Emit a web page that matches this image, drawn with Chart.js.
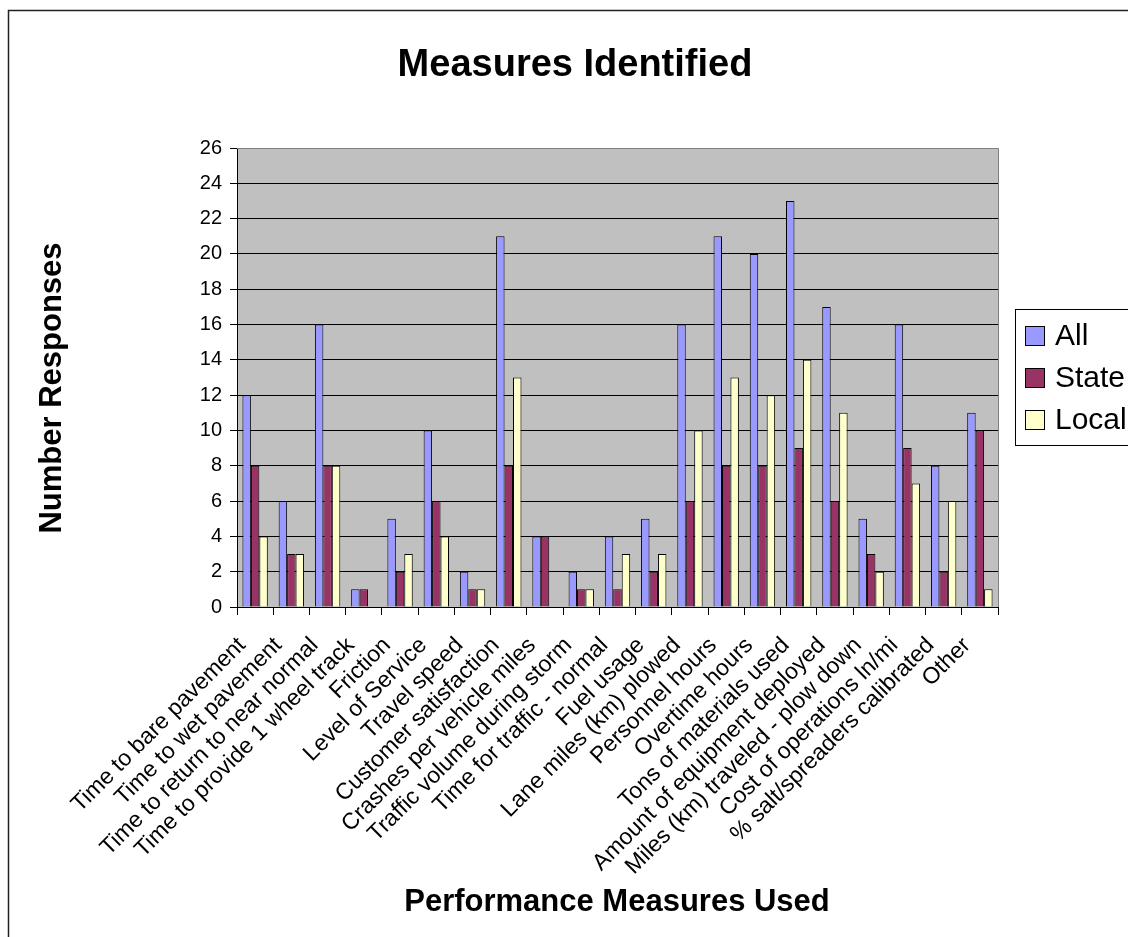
<!DOCTYPE html>
<html>
<head>
<meta charset="utf-8">
<script src="https://cdn.jsdelivr.net/npm/chart.js@4.4.1/dist/chart.umd.min.js"></script>
<style>
  html, body { margin: 0; padding: 0; background: #fff; overflow: hidden; }
  canvas { display: block; }
</style>
</head>
<body>
<canvas id="measuresChart" width="1128" height="937"></canvas>
<script>
// data
const categories = [
  'Time to bare pavement', 'Time to wet pavement', 'Time to return to near normal',
  'Time to provide 1 wheel track', 'Friction', 'Level of Service', 'Travel speed',
  'Customer satisfaction', 'Crashes per vehicle miles', 'Traffic volume during storm',
  'Time for traffic - normal', 'Fuel usage', 'Lane miles (km) plowed', 'Personnel hours',
  'Overtime hours', 'Tons of materials used', 'Amount of equipment deployed',
  'Miles (km) traveled - plow down', 'Cost of operations ln/mi', '% salt/spreaders calibrated', 'Other'
];
const allValues   = [12, 6, 16, 1, 5, 10, 2, 21, 4, 2, 4, 5, 16, 21, 20, 23, 17, 5, 16, 8, 11];
const stateValues = [ 8, 3,  8, 1, 2,  6, 1,  8, 4, 1, 1, 2,  6,  8,  8,  9,  6, 3,  9, 2, 10];
const localValues = [ 4, 3,  8, 0, 3,  4, 1, 13, 0, 1, 3, 3, 10, 13, 12, 14, 11, 2,  7, 6,  1];
const seriesNames = ['All', 'State', 'Local'];
const yMin = 0;
const yMax = 26;
const yStep = 2;

const seriesColors = ['#9999ff', '#993366', '#ffffcc'];
const fontFamily = 'Arial, "Liberation Sans", sans-serif';

// grey plot area, outer frame, titles and the boxed legend (Excel look)
const excelLook = {
  id: 'excelLook',
  beforeDraw(chart) {
    const c = chart.ctx;
    const a = chart.chartArea;
    c.save();
    c.fillStyle = '#ffffff';
    c.fillRect(0, 0, chart.width, chart.height);
    c.strokeStyle = '#222';
    c.lineWidth = 1.5;
    c.strokeRect(8.5, 10.5, chart.width + 50, chart.height + 50);
    c.fillStyle = '#c0c0c0';
    c.fillRect(a.left, a.top, a.right - a.left, a.bottom - a.top);
    c.restore();
  },
  afterDraw(chart) {
    const c = chart.ctx;
    const a = chart.chartArea;
    c.save();
    // plot border (top/right grey)
    c.strokeStyle = '#808080';
    c.lineWidth = 1;
    c.beginPath();
    c.moveTo(a.left, a.top + 0.5);
    c.lineTo(a.right + 0.5, a.top + 0.5);
    c.lineTo(a.right + 0.5, a.bottom);
    c.stroke();

    c.fillStyle = '#000';
    c.textAlign = 'center';
    c.textBaseline = 'middle';
    c.font = 'bold 38px ' + fontFamily;
    c.fillText('Measures Identified', 575, 66);
    c.font = 'bold 31px ' + fontFamily;
    c.fillText('Performance Measures Used', 617, 902);
    c.save();
    c.translate(52, 388);
    c.rotate(-Math.PI / 2);
    c.fillText('Number Responses', 0, 0);
    c.restore();

    // legend
    const lx = 1015, ly = 309, lw = 160, lh = 136;
    c.fillStyle = '#fff';
    c.fillRect(lx, ly, lw, lh);
    c.strokeStyle = '#000';
    c.lineWidth = 1;
    c.strokeRect(lx + 0.5, ly + 0.5, lw, lh);
    c.font = '30px ' + fontFamily;
    c.textAlign = 'left';
    chart.data.datasets.forEach((ds, i) => {
      const cy = ly + 27 + i * 42;
      c.fillStyle = ds.backgroundColor;
      c.fillRect(lx + 10, cy - 10, 20, 20);
      c.strokeStyle = '#000';
      c.strokeRect(lx + 10.5, cy - 9.5, 19, 19);
      c.fillStyle = '#000';
      c.fillText(ds.label, lx + 40, cy + 1);
    });
    c.restore();
  }
};

const seriesValues = [allValues, stateValues, localValues];

new Chart(document.getElementById('measuresChart'), {
  type: 'bar',
  data: {
    labels: categories,
    datasets: seriesNames.map((name, i) => ({
      label: name,
      data: seriesValues[i],
      backgroundColor: seriesColors[i],
      borderColor: '#000',
      borderWidth: 1,
      categoryPercentage: 0.7,
      barPercentage: 1.0
    }))
  },
  options: {
    responsive: false,
    animation: false,
    layout: { padding: { left: 0, top: 148, right: 130, bottom: 0 } },
    scales: {
      x: {
        afterFit: (s) => { s.height = 330; },
        grid: { drawOnChartArea: false, drawTicks: true, tickLength: 8, color: '#000', offset: true },
        border: { color: '#000', width: 1 },
        ticks: {
          autoSkip: false, maxRotation: 45, minRotation: 45, padding: 17, labelOffset: -13,
          color: '#000', font: { family: fontFamily, size: 23 }
        }
      },
      y: {
        min: yMin, max: yMax,
        afterFit: (s) => { s.width = 237; },
        grid: {
          color: (ctx) => ctx.tick && ctx.tick.value === yMax ? '#808080' : '#000',
          tickColor: '#000', tickLength: 7, lineWidth: 1
        },
        border: { color: '#000', width: 1 },
        ticks: { stepSize: yStep, padding: 8, color: '#000', font: { family: fontFamily, size: 20 } }
      }
    },
    plugins: {
      legend: { display: false },
      title: { display: false },
      tooltip: { enabled: false }
    }
  },
  plugins: [excelLook]
});
</script>
</body>
</html>
